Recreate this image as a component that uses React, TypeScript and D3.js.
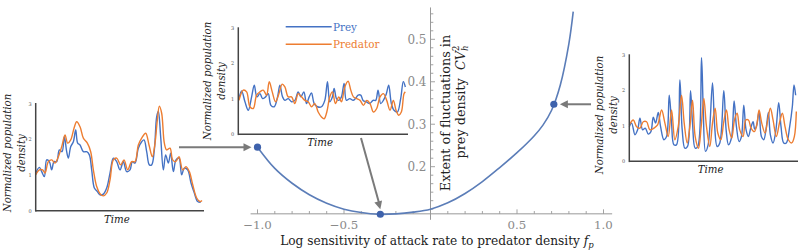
import React from "react";
import * as d3 from "d3";

// ---------- main curve data ----------
const fpValues = [-1.0, -0.9, -0.8, -0.7, -0.6, -0.5, -0.4, -0.3, -0.2, -0.1, 0.0, 0.1, 0.2, 0.3, 0.4, 0.5, 0.6, 0.65, 0.7, 0.75, 0.8, 0.825];
const cvValues = [0.246, 0.196, 0.161, 0.134, 0.114, 0.1, 0.092, 0.088, 0.089, 0.093, 0.1, 0.115, 0.137, 0.165, 0.198, 0.233, 0.273, 0.298, 0.333, 0.392, 0.49, 0.565];
const markedFp = [-1.0, -0.29, 0.713];
const markedCv = [0.246, 0.088, 0.347];
const xMajorTicks = [-1.0, -0.5, 0.5, 1.0];
const xTickLabels = ["\u22121.0", "\u22120.5", "0.5", "1.0"];
const yMajorTicks = [0.2, 0.3, 0.4, 0.5];
const yTickLabels = ["0.2", "0.3", "0.4", "0.5"];
const insetTicks = [0, 1, 2, 3];

// ---------- inset time series (left: fp = -1) ----------
const leftPreyT = [0, 11, 18, 26, 33, 41, 48, 55, 63, 71, 79, 86, 93, 98, 105, 113, 120, 126, 133, 143, 153, 161, 168, 176, 185, 193, 203, 213, 223, 233, 243, 253, 263, 273, 283, 290, 298, 308, 318, 325, 333, 341, 348, 356, 363, 368, 375, 383, 390, 398, 405, 413, 421, 430, 438, 446, 456, 466, 476, 486, 495];
const leftPreyV = [1.06, 1.22, 1.1, 0.96, 1.43, 1.38, 1.15, 1.38, 1.38, 1.71, 1.66, 2.08, 1.66, 1.48, 1.8, 1.94, 2.27, 1.9, 1.85, 1.66, 1.66, 1.57, 1.15, 0.64, 0.54, 0.45, 0.47, 0.64, 1.06, 1.48, 1.38, 1.15, 1.38, 1.1, 1.15, 1.38, 1.34, 1.76, 1.94, 1.99, 1.66, 1.29, 1.29, 1.71, 2.64, 2.79, 2.08, 1.15, 1.57, 1.34, 1.62, 1.1, 1.43, 1.48, 1.01, 1.2, 1.15, 0.78, 0.5, 0.26, 0.24];
const leftPredT = [0, 11, 21, 28, 38, 48, 58, 68, 78, 88, 96, 105, 115, 123, 133, 143, 155, 165, 173, 183, 193, 203, 213, 223, 233, 243, 255, 265, 276, 288, 298, 308, 318, 330, 340, 350, 358, 365, 371, 378, 386, 393, 403, 411, 420, 430, 441, 451, 461, 471, 483, 493, 499];
const leftPredV = [1.01, 1.15, 1.15, 1.06, 1.38, 1.43, 1.34, 1.52, 1.8, 2.13, 1.9, 1.99, 2.32, 2.5, 2.36, 2.04, 1.9, 1.66, 1.15, 0.68, 0.48, 0.42, 0.5, 0.87, 1.43, 1.48, 1.29, 1.43, 1.15, 1.38, 1.38, 1.85, 2.04, 2.18, 1.85, 1.52, 1.9, 2.55, 2.94, 2.74, 1.9, 1.71, 1.76, 1.43, 1.38, 1.52, 1.15, 1.24, 1.1, 0.74, 0.36, 0.26, 0.29];

// ---------- inset time series (middle: fp = -0.3) ----------
const midPreyT = [2, 10, 20, 30, 40, 48, 56, 65, 73, 82, 90, 98, 108, 118, 125, 133, 140, 150, 160, 170, 180, 188, 197, 205, 213, 220, 228, 238, 250, 260, 268, 275, 283, 288, 295, 302, 310, 318, 325, 335, 345, 352, 360, 368, 375, 385, 395, 405, 413, 420, 428, 436, 445, 452, 460, 468, 478, 488, 496, 502];
const midPreyV = [1.01, 1.23, 0.92, 0.68, 1.06, 1.39, 1.06, 1.15, 1.01, 1.06, 1.15, 0.82, 0.78, 1.06, 1.39, 1.06, 0.96, 1.01, 0.92, 0.96, 1.2, 1.06, 1.2, 0.87, 1.06, 1.17, 0.87, 0.78, 0.78, 0.96, 1.49, 0.92, 1.06, 1.3, 1.01, 0.96, 1.06, 1.44, 0.96, 1.01, 0.96, 1.01, 1.11, 1.11, 0.96, 0.92, 0.87, 0.96, 0.96, 1.25, 0.87, 0.96, 1.15, 1.39, 0.87, 0.68, 0.63, 1.01, 1.49, 1.34];
const midPredT = [2, 15, 25, 35, 45, 55, 65, 75, 85, 93, 102, 112, 122, 132, 140, 150, 160, 170, 180, 190, 200, 210, 220, 230, 240, 250, 258, 266, 275, 283, 292, 302, 310, 320, 330, 338, 346, 356, 366, 376, 386, 396, 406, 416, 426, 436, 446, 456, 466, 474, 482, 490, 498, 502];
const midPredV = [0.96, 1.25, 1.2, 0.78, 0.73, 1.11, 1.2, 1.25, 1.11, 1.49, 1.2, 0.92, 1.15, 1.42, 1.34, 1.06, 1.06, 0.87, 1.15, 1.06, 0.96, 0.92, 0.78, 0.87, 0.63, 0.49, 0.44, 0.63, 1.06, 1.2, 0.87, 1.06, 0.92, 1.34, 1.5, 1.25, 1.06, 1.01, 0.96, 0.82, 0.96, 0.87, 0.63, 0.73, 1.06, 1.15, 0.96, 0.68, 0.96, 0.68, 0.54, 0.63, 1.15, 1.2];

// ---------- inset time series (right: fp = 0.7) ----------
const rightPreyT = [0, 7, 17, 25, 32, 40, 48, 57, 65, 72, 79, 87, 94, 104, 112, 120, 127, 134, 142, 152, 159, 167, 175, 184, 190, 198, 206, 217, 222, 229, 237, 250, 256, 264, 272, 284, 291, 298, 307, 315, 322, 330, 337, 344, 351, 358, 365, 372, 377, 382, 390, 397, 404, 412, 418, 424, 432, 440, 449, 456, 464, 472, 482, 490, 495, 500];
const rightPreyV = [0.98, 1.08, 0.75, 0.89, 1.22, 0.89, 0.94, 0.77, 0.84, 1.25, 1.08, 1.38, 0.98, 0.61, 0.7, 1.87, 1.08, 0.47, 0.47, 2.3, 0.89, 0.37, 0.42, 2.0, 1.08, 0.37, 0.42, 2.93, 1.55, 0.28, 0.47, 2.22, 1.08, 0.42, 0.52, 2.0, 0.89, 0.47, 0.66, 1.71, 0.98, 0.56, 0.7, 1.59, 0.89, 0.7, 0.94, 1.12, 0.91, 0.98, 1.41, 0.7, 0.61, 0.98, 1.38, 0.75, 0.52, 0.84, 1.66, 0.98, 0.52, 0.52, 0.98, 1.55, 2.16, 1.87];
const rightPredT = [0, 12, 22, 32, 42, 52, 62, 74, 85, 97, 107, 117, 127, 137, 147, 157, 165, 174, 182, 190, 198, 208, 216, 224, 232, 242, 250, 258, 266, 275, 284, 292, 300, 308, 316, 324, 332, 342, 350, 358, 366, 376, 384, 390, 398, 408, 416, 424, 432, 442, 452, 460, 468, 478, 488, 496, 502];
const rightPredV = [1.03, 1.17, 0.98, 0.94, 1.12, 1.12, 0.89, 0.94, 1.03, 1.45, 1.08, 0.7, 1.45, 0.61, 0.98, 1.87, 1.08, 0.52, 0.98, 1.73, 0.7, 0.37, 0.98, 1.78, 0.98, 0.42, 1.08, 1.5, 0.8, 0.61, 1.12, 1.45, 0.89, 0.66, 1.17, 1.36, 0.89, 0.7, 1.17, 1.17, 0.94, 0.84, 1.08, 1.45, 1.08, 0.8, 1.17, 1.5, 1.17, 0.7, 1.12, 1.36, 0.98, 0.61, 0.52, 0.7, 1.41];

const PREY = "#4472C4";
const PRED = "#ED7D31";
const CURVE = "#5B7DB8";
const DOT = "#3E62AC";
const ARROW = "#7a7a7a";
const SERIF = "'DejaVu Serif', serif";

type InsetProps = {
  left: number; right: number; top: number; bottom: number; tMax: number;
  preyT: number[]; preyV: number[]; predT: number[]; predV: number[];
  labelX: number; labelCy: number;
};

function Inset(p: InsetProps) {
  const x = d3.scaleLinear().domain([0, p.tMax]).range([p.left, p.right]);
  const y = d3.scaleLinear().domain([0, 3]).range([p.bottom, p.top]);
  const line = d3.line<[number, number]>().x((d) => x(d[0])).y((d) => y(d[1])).curve(d3.curveCatmullRom.alpha(0.5));
  const prey = line(p.preyT.map((t, i) => [t, p.preyV[i]] as [number, number])) || "";
  const pred = line(p.predT.map((t, i) => [t, p.predV[i]] as [number, number])) || "";
  return (
    <g>
      <path d={prey} fill="none" stroke={PREY} strokeWidth={1.4} strokeLinejoin="round" />
      <path d={pred} fill="none" stroke={PRED} strokeWidth={1.4} strokeLinejoin="round" />
      <line x1={p.left} x2={p.left} y1={p.top - 1} y2={p.bottom + 0.8} stroke="#444" strokeWidth={1.5} />
      <line x1={p.left} x2={p.right} y1={p.bottom} y2={p.bottom} stroke="#444" strokeWidth={1.5} />
      {insetTicks.map((t) => (
        <text key={t} x={p.left - 4} y={y(t) + 1.8} fontSize={5} fill="#555" textAnchor="end" fontFamily={SERIF}>{t}</text>
      ))}
      <text x={(p.left + p.right) / 2 - 3} y={p.bottom + 12} fontSize={10.2} fontStyle="italic" textAnchor="middle" fontFamily={SERIF} fill="#222">Time</text>
      <g transform={`translate(${p.labelX},${p.labelCy}) rotate(-90)`}>
        <text x={0} y={0} fontSize={10.2} fontStyle="italic" textAnchor="middle" fontFamily={SERIF} fill="#222">Normalized population</text>
        <text x={0} y={13.5} fontSize={10.2} fontStyle="italic" textAnchor="middle" fontFamily={SERIF} fill="#222">density</text>
      </g>
    </g>
  );
}

export default function App() {
  const xs = d3.scaleLinear().domain([-1, 1]).range([257.5, 603.5]);
  const ys = d3.scaleLinear().domain([0.2, 0.5]).range([166.7, 39.3]);
  const axisY = ys(0.089);
  const axisX = xs(0);
  const curve = d3.line<number>().x((d, i) => xs(fpValues[i])).y((d) => ys(d)).curve(d3.curveCatmullRom.alpha(0.5));
  const xMinor = d3.range(-10, 11).filter((i) => i !== 0).map((i) => i / 10);
  const yMinor = d3.range(5, 29).map((i) => i / 50);
  const dots = markedFp.map((f, i) => [xs(f), ys(markedCv[i])]);

  const arrowHead = "M0,0 L-8,-4 L-8,4 Z";
  const ang2 = Math.atan2(dots[1][1] - 6 - 138, dots[1][0] - 361) * 180 / Math.PI;

  return (
    <svg width={800} height={250} style={{ position: "absolute", left: 0, top: 0, background: "#fff" }}>
      <rect width={800} height={250} fill="#fff" />
      {/* main axes */}
      <line x1={xs(-1.04)} x2={xs(1.05)} y1={axisY} y2={axisY} stroke="#999" strokeWidth={1} />
      <line x1={axisX} x2={axisX} y1={ys(0.575)} y2={ys(0.075)} stroke="#999" strokeWidth={1} />
      {xMinor.map((f) => {
        const major = xMajorTicks.some((m) => Math.abs(m - f) < 1e-6);
        return <line key={"xt" + f} x1={xs(f)} x2={xs(f)} y1={axisY} y2={axisY - (major ? 4.5 : 2.8)} stroke="#999" strokeWidth={0.9} />;
      })}
      {yMinor.map((v) => {
        const major = yMajorTicks.some((m) => Math.abs(m - v) < 1e-6);
        return <line key={"yt" + v} x1={axisX} x2={axisX + (major ? 4.5 : 2.8)} y1={ys(v)} y2={ys(v)} stroke="#999" strokeWidth={0.9} />;
      })}
      {xMajorTicks.map((f, i) => (
        <text key={"xl" + f} x={xs(f)} y={axisY + 15} fontSize={11.8} fill="#8a8a8a" textAnchor="middle" fontFamily={SERIF}>{xTickLabels[i]}</text>
      ))}
      {yMajorTicks.map((v, i) => (
        <text key={"yl" + v} x={axisX - 4} y={ys(v) + 4.3} fontSize={12} fill="#8a8a8a" textAnchor="end" fontFamily={SERIF}>{yTickLabels[i]}</text>
      ))}
      <text x={437} y={245} fontSize={12.2} textAnchor="middle" fontFamily={SERIF} fill="#222">
        Log sensitivity of attack rate to predator density <tspan fontStyle="italic">f</tspan><tspan fontStyle="italic" fontSize={8.5} dy={3}>p</tspan>
      </text>
      <g transform={`translate(449.5,113) rotate(-90)`}>
        <text x={0} y={0} fontSize={12.8} textAnchor="middle" fontFamily={SERIF} fill="#222">Extent of fluctuations in</text>
      </g>
      <g transform={`translate(464.5,102) rotate(-90)`}>
        <text x={0} y={0} fontSize={12.8} textAnchor="middle" fontFamily={SERIF} fill="#222">
          prey density{"\u00a0\u00a0"}<tspan fontStyle="italic">CV</tspan><tspan fontSize={8.5} dy={-6}>2</tspan><tspan fontSize={8.5} fontStyle="italic" dx={-5.4} dy={9}>h</tspan>
        </text>
      </g>
      <path d={curve(cvValues) || ""} fill="none" stroke={CURVE} strokeWidth={1.6} />
      {dots.map((d, i) => <circle key={"d" + i} cx={d[0]} cy={d[1]} r={3.6} fill={DOT} />)}

      {/* insets */}
      <Inset left={35.7} right={204} top={104} bottom={210.8} tMax={505}
        preyT={leftPreyT} preyV={leftPreyV} predT={leftPredT} predV={leftPredV} labelX={11} labelCy={153} />
      <Inset left={238.3} right={408} top={28.3} bottom={134.3} tMax={510}
        preyT={midPreyT} preyV={midPreyV} predT={midPredT} predV={midPredV} labelX={211} labelCy={81} />
      <Inset left={629.3} right={798} top={55.3} bottom={161.3} tMax={507}
        preyT={rightPreyT} preyV={rightPreyV} predT={rightPredT} predV={rightPredV} labelX={603} labelCy={115} />

      {/* legend */}
      <line x1={285.7} x2={331.7} y1={26.7} y2={26.7} stroke={PREY} strokeWidth={1.5} />
      <text x={333} y={30.5} fontSize={10.4} fill={PREY} fontFamily={SERIF}>Prey</text>
      <line x1={285.7} x2={331.7} y1={44.3} y2={44.3} stroke={PRED} strokeWidth={1.5} />
      <text x={333} y={48.1} fontSize={10.4} fill={PRED} fontFamily={SERIF}>Predator</text>

      {/* arrows */}
      <line x1={179} x2={dots[0][0] - 12} y1={dots[0][1]} y2={dots[0][1]} stroke={ARROW} strokeWidth={2} />
      <path d={arrowHead} transform={`translate(${dots[0][0] - 6},${dots[0][1]})`} fill={ARROW} />
      <line x1={361} y1={138} x2={dots[1][0] - 1.5} y2={dots[1][1] - 12} stroke={ARROW} strokeWidth={2} />
      <path d={arrowHead} transform={`translate(${dots[1][0]},${dots[1][1] - 5}) rotate(${ang2})`} fill={ARROW} />
      <line x1={591} x2={dots[2][0] + 12} y1={dots[2][1]} y2={dots[2][1]} stroke={ARROW} strokeWidth={2} />
      <path d={arrowHead} transform={`translate(${dots[2][0] + 6},${dots[2][1]}) rotate(180)`} fill={ARROW} />
    </svg>
  );
}
